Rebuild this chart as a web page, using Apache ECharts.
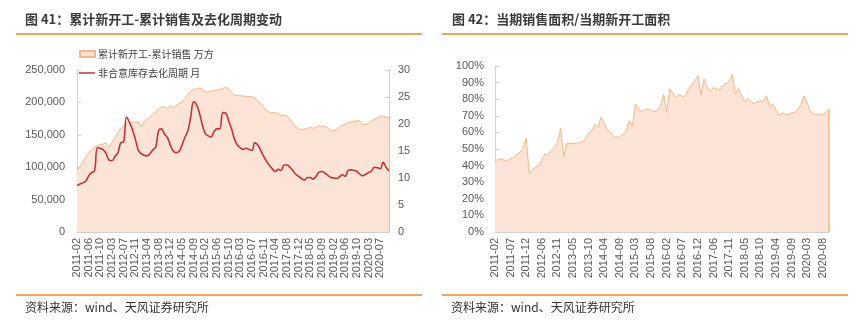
<!DOCTYPE html>
<html>
<head>
<meta charset="utf-8">
<script src="https://cdn.jsdelivr.net/npm/echarts@6/dist/echarts.min.js"></script>
<style>
  html, body { margin: 0; padding: 0; background: #fff; }
  #chart { width: 859px; height: 324px; }
</style>
</head>
<body>
<div id="chart"></div>
<script>
// Monthly categories (January is merged into February in the statistics)
const YEARS = [2011, 2012, 2013, 2014, 2015, 2016, 2017, 2018, 2019, 2020];
const MONTHS = ['02', '03', '04', '05', '06', '07', '08', '09', '10', '11', '12'];
const LAST_MONTH = '10';
const categories = [];
YEARS.forEach(function (y) {
  for (const m of MONTHS) {
    categories.push(y + '-' + m);
    if (y === YEARS[YEARS.length - 1] && m === LAST_MONTH) break;
  }
});

// 累计新开工-累计销售 (万方)
const startsMinusSales = [
  95000, 101000, 108000, 115000, 122000, 127000, 131000, 133000, 135000, 136000, 137000,
  131000, 138000, 146000, 153000, 160000, 164000, 167000, 169000, 170000, 170000, 170000,
  162000, 170000, 174000, 177000, 181000, 186000, 190000, 193000, 193000, 191000, 195000,
  192000, 196000, 198000, 201000, 206000, 212000, 218000, 220000, 221000, 222000, 221000,
  215000, 217000, 217000, 218000, 219000, 220000, 221000, 224000, 221000, 215000, 211000,
  211000, 210000, 210000, 209000, 209000, 209000, 207000, 203000, 198000, 193000, 187000,
  185000, 184000, 184000, 183000, 180000, 180000, 179000, 175000, 168000, 162000, 159000,
  158000, 159000, 160000, 162000, 160000, 162000, 164000, 163000, 163000, 161000, 157000,
  156000, 158000, 162000, 165000, 166000, 169000, 170000, 170000, 172000, 171000, 166000,
  166000, 168000, 171000, 174000, 176000, 179000, 179000, 177000, 177000
];

// 非合意库存去化周期 (月)
const destockMonths = [
  8.6, 8.9, 9.1, 9.4, 10.4, 11.0, 11.3, 15.6, 15.5, 15.2, 14.5,
  13.3, 13.2, 14.0, 14.6, 16.5, 16.7, 21.3, 20.3, 19.0, 17.2, 15.2,
  14.5, 14.2, 14.1, 14.5, 15.2, 15.7, 18.8, 19.1, 18.1, 17.5, 16.1,
  15.0, 14.7, 14.9, 16.1, 17.5, 18.7, 21.3, 24.1, 23.6, 22.0, 19.8,
  18.2, 17.8, 17.6, 18.6, 19.1, 19.1, 22.1, 22.0, 20.6, 19.1, 17.2,
  16.1, 15.6, 15.3, 15.5, 15.3, 15.1, 16.5, 16.1, 15.1, 14.0, 13.1,
  12.3, 11.7, 11.2, 11.6, 11.4, 12.4, 12.4, 12.0, 11.4, 10.7, 10.3,
  9.9, 9.6, 10.1, 10.1, 9.8, 10.3, 11.1, 11.2, 10.9, 10.5, 10.1,
  10.0, 9.9, 10.2, 10.6, 10.3, 11.4, 11.5, 11.4, 11.2, 10.7, 10.4,
  10.7, 11.0, 11.3, 12.0, 11.9, 11.7, 12.9, 12.0, 11.3
];

// 当期销售面积/当期新开工面积 (%)
const salesToStarts = [
  42.0, 43.9, 43.9, 43.3, 43.0, 44.3, 44.9, 46.5, 48.0, 50.5, 56.5,
  34.8, 37.5, 39.2, 40.0, 43.5, 46.7, 46.9, 49.0, 51.0, 54.0, 62.4,
  45.3, 53.3, 53.3, 53.2, 53.3, 53.8, 54.5, 56.5, 59.5, 61.2, 64.8,
  62.8, 69.2, 65.4, 61.5, 60.2, 57.5, 56.8, 57.5, 59.0, 60.5, 67.0,
  64.0, 77.1, 74.2, 72.5, 74.0, 74.0, 73.2, 72.6, 73.5, 75.5, 82.9,
  72.0, 86.1, 83.6, 81.2, 82.9, 81.7, 82.0, 86.0, 88.5, 91.0, 94.2,
  82.5, 92.2, 87.0, 84.6, 87.1, 86.1, 85.9, 88.0, 89.5, 90.6, 95.0,
  83.0, 86.5, 82.0, 78.6, 80.3, 78.5, 77.3, 78.5, 78.9, 78.9, 82.1,
  75.5, 76.9, 73.5, 70.2, 71.8, 70.8, 70.6, 71.8, 72.0, 73.8, 76.5,
  81.9, 77.8, 72.5, 71.0, 70.8, 71.2, 70.2, 72.5, 73.8
];

const leftTicks = [0, 50000, 100000, 150000, 200000, 250000];
const rightTicks = [0, 5, 10, 15, 20, 25, 30];
const pctTicks = [0, 10, 20, 30, 40, 50, 60, 70, 80, 90, 100];

const AREA_FILL = '#fbe4d5';
const AREA_EDGE = '#f5b789';
const LINE_RED = '#c3343a';
const ORANGE = '#f0861e';
const AXIS_GRAY = '#d0d0d0';
const LABEL_GRAY = '#595959';
const CJK = '"Noto Sans CJK SC", "Liberation Sans", sans-serif';
const LATIN = '"Liberation Sans", Arial, sans-serif';

const lastCat = categories[categories.length - 1];

function commas(v) {
  return String(v).replace(/\B(?=(\d{3})+(?!\d))/g, ',');
}

const catAxisBase = {
  type: 'category',
  data: categories,
  boundaryGap: false,
  axisLine: { lineStyle: { color: AXIS_GRAY, width: 1 } },
  axisTick: { show: true, interval: 0, length: 3, inside: true, lineStyle: { color: '#c8b8ae' } },
  splitLine: { show: false }
};

const valAxisBase = {
  type: 'value',
  axisLine: { show: true, lineStyle: { color: AXIS_GRAY } },
  axisTick: { show: true, inside: true, length: 4, lineStyle: { color: AXIS_GRAY } },
  splitLine: { show: false }
};

const option = {
  animation: false,
  backgroundColor: '#ffffff',
  grid: [
    { left: 77, right: 470, top: 70, bottom: 92 },
    { left: 495, right: 30, top: 66, bottom: 92 }
  ],
  legend: [
    {
      data: [{ name: '累计新开工-累计销售 万方', icon: 'rect' }],
      left: 74, top: 44, itemWidth: 15, itemHeight: 6, itemGap: 4,
      textStyle: { fontFamily: CJK, fontSize: 10, color: '#404040', padding: [0, 0, 0, -2] }
    },
    {
      data: [{ name: '非合意库存去化周期 月', icon: 'rect', itemStyle: { color: LINE_RED, borderWidth: 0 } }],
      left: 74, top: 63, itemWidth: 16, itemHeight: 1.5,
      textStyle: { fontFamily: CJK, fontSize: 10, color: '#404040', padding: [0, 0, 0, -2] }
    }
  ],
  xAxis: [
    Object.assign({}, catAxisBase, {
      gridIndex: 0,
      axisLabel: { interval: 3, rotate: 90, margin: 6, fontFamily: LATIN, fontSize: 11, color: LABEL_GRAY }
    }),
    Object.assign({}, catAxisBase, {
      gridIndex: 1,
      axisLabel: { interval: 4, rotate: 90, margin: 6, fontFamily: LATIN, fontSize: 11, color: LABEL_GRAY }
    })
  ],
  yAxis: [
    Object.assign({}, valAxisBase, {
      gridIndex: 0,
      min: leftTicks[0], max: leftTicks[leftTicks.length - 1], interval: leftTicks[1] - leftTicks[0],
      axisLabel: { margin: 12, fontFamily: LATIN, fontSize: 11, color: LABEL_GRAY, formatter: commas }
    }),
    Object.assign({}, valAxisBase, {
      gridIndex: 0, position: 'right',
      min: rightTicks[0], max: rightTicks[rightTicks.length - 1], interval: rightTicks[1] - rightTicks[0],
      axisLabel: { margin: 9, fontFamily: LATIN, fontSize: 11, color: LABEL_GRAY }
    }),
    Object.assign({}, valAxisBase, {
      gridIndex: 1,
      min: pctTicks[0], max: pctTicks[pctTicks.length - 1], interval: pctTicks[1] - pctTicks[0],
      axisLabel: { margin: 11, fontFamily: LATIN, fontSize: 11, color: LABEL_GRAY, formatter: '{value}%' }
    })
  ],
  series: [
    {
      name: '累计新开工-累计销售 万方',
      type: 'line',
      xAxisIndex: 0, yAxisIndex: 0,
      data: startsMinusSales,
      symbol: 'none',
      itemStyle: { color: AREA_FILL, borderColor: AREA_EDGE, borderWidth: 1 },
      lineStyle: { color: AREA_EDGE, width: 1 },
      areaStyle: { color: AREA_FILL, opacity: 1 },
      markLine: {
        silent: true, symbol: 'none', label: { show: false },
        lineStyle: { color: AREA_EDGE, type: 'solid', width: 1 },
        data: [[{ coord: [lastCat, 0] }, { coord: [lastCat, startsMinusSales[startsMinusSales.length - 1]] }]]
      },
      z: 1
    },
    {
      name: '非合意库存去化周期 月',
      type: 'line',
      xAxisIndex: 0, yAxisIndex: 1,
      data: destockMonths,
      symbol: 'none',
      smooth: 0.4,
      itemStyle: { color: LINE_RED },
      lineStyle: { color: LINE_RED, width: 1.6 },
      z: 3
    },
    {
      name: '当期销售面积/当期新开工面积',
      type: 'line',
      xAxisIndex: 1, yAxisIndex: 2,
      data: salesToStarts,
      symbol: 'none',
      itemStyle: { color: AREA_FILL },
      lineStyle: { color: AREA_EDGE, width: 1 },
      areaStyle: { color: AREA_FILL, opacity: 1 },
      markLine: {
        silent: true, symbol: 'none', label: { show: false },
        lineStyle: { color: AREA_EDGE, type: 'solid', width: 1.5 },
        data: [[{ coord: [lastCat, 0] }, { coord: [lastCat, salesToStarts[salesToStarts.length - 1]] }]]
      },
      z: 1
    }
  ],
  graphic: [
    { type: 'text', left: 25, top: 13, style: { text: '图 41：累计新开工-累计销售及去化周期变动', font: 'bold 13px ' + CJK, fill: '#3a3a3a' } },
    { type: 'text', left: 452, top: 13, style: { text: '图 42：当期销售面积/当期新开工面积', font: 'bold 13px ' + CJK, fill: '#3a3a3a' } },
    { type: 'line', shape: { x1: 16, y1: 34, x2: 422, y2: 34 }, style: { stroke: ORANGE, lineWidth: 1.5 } },
    { type: 'line', shape: { x1: 442, y1: 34, x2: 848, y2: 34 }, style: { stroke: ORANGE, lineWidth: 1.5 } },
    { type: 'line', shape: { x1: 16, y1: 295, x2: 422, y2: 295 }, style: { stroke: ORANGE, lineWidth: 1.5 } },
    { type: 'line', shape: { x1: 442, y1: 295, x2: 848, y2: 295 }, style: { stroke: ORANGE, lineWidth: 1.5 } },
    { type: 'text', left: 25, top: 301, style: { text: '资料来源：wind、天风证券研究所', font: '12px ' + CJK, fill: '#333333' } },
    { type: 'text', left: 451, top: 301, style: { text: '资料来源：wind、天风证券研究所', font: '12px ' + CJK, fill: '#333333' } }
  ]
};

const chart = echarts.init(document.getElementById('chart'), null, { renderer: 'canvas' });
chart.setOption(option);
</script>
</body>
</html>
